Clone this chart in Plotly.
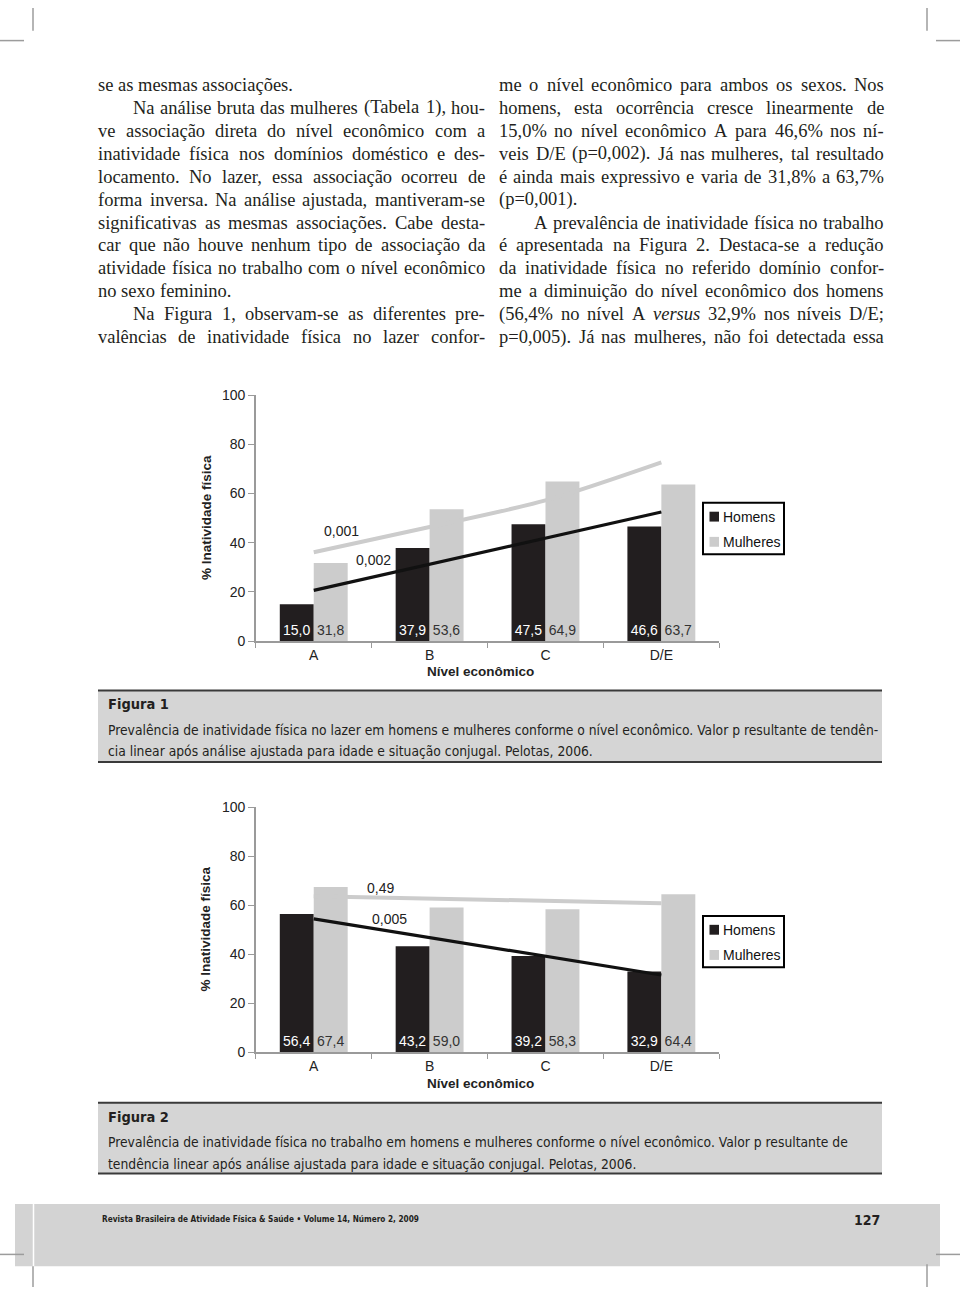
import unicodedata
import plotly.graph_objects as go

W, H = 960, 1295

# ---------------- data ----------------
levels = ["A", "B", "C", "D/E"]
series_names = ["Homens", "Mulheres"]

fig1_men = [15.0, 37.9, 47.5, 46.6]
fig1_women = [31.8, 53.6, 64.9, 63.7]
fig1_trend_men = [20.6, 31.2, 41.8, 52.5]
fig1_trend_women = [36.1, 46.4, 57.2, 72.7]
fig1_pvalues = ["0,001", "0,002"]

fig2_men = [56.4, 43.2, 39.2, 32.9]
fig2_women = [67.4, 59.0, 58.3, 64.4]
fig2_trend_men = [54.4, 46.8, 39.1, 31.5]
fig2_trend_women = [63.6, 62.7, 61.7, 60.8]
fig2_pvalues = ["0,49", "0,005"]

y_ticks = [0, 20, 40, 60, 80, 100]

left_col = [
    "se as mesmas associações.",
    "Na análise bruta das mulheres (Tabela 1), hou-",
    "ve associação direta do nível econômico com a",
    "inatividade física nos domínios doméstico e des-",
    "locamento. No lazer, essa associação ocorreu de",
    "forma inversa. Na análise ajustada, mantiveram-se",
    "significativas as mesmas associações. Cabe desta-",
    "car que não houve nenhum tipo de associação da",
    "atividade física no trabalho com o nível econômico",
    "no sexo feminino.",
    "Na Figura 1, observam-se as diferentes pre-",
    "valências de inatividade física no lazer confor-",
]
left_indent = [1, 10]
left_ragged = [0, 9]
right_col = [
    "me o nível econômico para ambos os sexos. Nos",
    "homens, esta ocorrência cresce linearmente de",
    "15,0% no nível econômico A para 46,6% nos ní-",
    "veis D/E (p=0,002). Já nas mulheres, tal resultado",
    "é ainda mais expressivo e varia de 31,8% a 63,7%",
    "(p=0,001).",
    "A prevalência de inatividade física no trabalho",
    "é apresentada na Figura 2. Destaca-se a redução",
    "da inatividade física no referido domínio confor-",
    "me a diminuição do nível econômico dos homens",
    "(56,4% no nível A <i>versus</i> 32,9% nos níveis D/E;",
    "p=0,005). Já nas mulheres, não foi detectada essa",
]
right_indent = [6]
right_ragged = [5]

cap1_title = "Figura 1"
cap1_lines = [
    "Prevalência de inatividade física no lazer em homens e mulheres conforme o nível econômico. Valor p resultante de tendên-",
    "cia linear após análise ajustada para idade e situação conjugal. Pelotas, 2006.",
]
cap2_title = "Figura 2"
cap2_lines = [
    "Prevalência de inatividade física no trabalho em homens e mulheres conforme o nível econômico. Valor p resultante de",
    "tendência linear após análise ajustada para idade e situação conjugal. Pelotas, 2006.",
]
footer_text = "Revista Brasileira de Atividade Física &amp; Saúde • Volume 14, Número 2, 2009"
page_number = "127"

# ---------------- styling ----------------
C_MEN = "#221e1f"
C_WOMEN = "#cccccc"
C_AXIS = "#9a9a9a"
C_TEXT = "#231f20"
SANS = "Liberation Sans, Arial, sans-serif"
SERIF = "Liberation Serif, Times New Roman, serif"
NARROW = "Liberation Sans Narrow, Arial Narrow, DejaVu Sans Condensed, Roboto Condensed, sans-serif"
BODY_SIZE = 18.5

# Times metrics (1/1000 em) used only to justify the body text lines
TIMES_W = dict(zip("abcdefghijklmnopqrstuvwxyz",
                   [444, 500, 444, 500, 444, 333, 500, 500, 278, 278, 500, 278, 778,
                    500, 500, 500, 500, 333, 389, 278, 500, 500, 722, 500, 500, 444]))
TIMES_W.update(zip("ABCDEFGHIJKLMNOPQRSTUVWXYZ",
                   [722, 667, 667, 722, 611, 556, 722, 722, 333, 389, 722, 611, 889,
                    722, 722, 556, 722, 667, 556, 611, 722, 722, 944, 722, 722, 611]))
TIMES_W.update({d: 500 for d in "0123456789"})
TIMES_W.update({" ": 250, ",": 250, ".": 250, "-": 333, "(": 333, ")": 333,
                "%": 833, "=": 564, "/": 278, ";": 278, ":": 278})


def word_width(w, size):
    s = w.replace("<i>", "").replace("</i>", "")
    tot = 0
    for ch in s:
        base = unicodedata.normalize("NFD", ch)[0]
        tot += TIMES_W.get(base, 500)
    return tot / 1000 * size


def px(x):
    return x / W


def py(y):
    return 1 - y / H


def fmt(v):
    return f"{v:.1f}".replace(".", ",")


fig = go.Figure()

charts = [
    dict(men=fig1_men, women=fig1_women, tm=fig1_trend_men, tw=fig1_trend_women,
         xa="x", ya="y", y0=641, y100=392, pv=fig1_pvalues,
         pvpos=[(341.6, 530), (373, 559.3)], leg_top=501, xtitle_y=672,
         tw_shape="spline"),
    dict(men=fig2_men, women=fig2_women, tm=fig2_trend_men, tw=fig2_trend_women,
         xa="x2", ya="y2", y0=1057.3, y100=809, pv=fig2_pvalues,
         pvpos=[(380.6, 890.7), (389, 922.7)], leg_top=919.3, xtitle_y=1089.3,
         tw_shape="linear"),
]

annotations = []
shapes = []

for i, c in enumerate(charts):
    fig.add_trace(go.Bar(
        x=levels, y=c["men"], name=series_names[0], xaxis=c["xa"], yaxis=c["ya"],
        marker=dict(color=C_MEN, line=dict(width=0)),
        text=[fmt(v) for v in c["men"]], textposition="inside",
        insidetextanchor="start", textangle=0, constraintext="none",
        textfont=dict(color="white", size=14, family=SANS),
        showlegend=False, hoverinfo="skip"))
    fig.add_trace(go.Bar(
        x=levels, y=c["women"], name=series_names[1], xaxis=c["xa"], yaxis=c["ya"],
        marker=dict(color=C_WOMEN, line=dict(width=0)),
        text=[fmt(v) for v in c["women"]], textposition="inside",
        insidetextanchor="start", textangle=0, constraintext="none",
        textfont=dict(color="#333333", size=14, family=SANS),
        showlegend=False, hoverinfo="skip"))
    fig.add_trace(go.Scatter(
        x=levels, y=c["tw"], mode="lines", xaxis=c["xa"], yaxis=c["ya"],
        line=dict(color=C_WOMEN, width=4, shape=c["tw_shape"], smoothing=0.8),
        showlegend=False, hoverinfo="skip"))
    fig.add_trace(go.Scatter(
        x=levels, y=c["tm"], mode="lines", xaxis=c["xa"], yaxis=c["ya"],
        line=dict(color="#111111", width=3.2),
        showlegend=False, hoverinfo="skip"))

    for txt, (ax_, ay_) in zip(c["pv"], c["pvpos"]):
        annotations.append(dict(x=px(ax_), y=py(ay_), xref="paper", yref="paper",
                                text=txt, showarrow=False, xanchor="center", yanchor="middle",
                                font=dict(family=SANS, size=14, color="#222222")))
    lt = c["leg_top"]
    shapes.append(dict(type="rect", xref="paper", yref="paper",
                       x0=px(703), x1=px(784), y0=py(lt), y1=py(lt + 52),
                       line=dict(color="black", width=2), fillcolor="white"))
    for k, (nm, col) in enumerate(zip(series_names, [C_MEN, C_WOMEN])):
        cy = lt + 14 + 25.5 * k
        shapes.append(dict(type="rect", xref="paper", yref="paper",
                           x0=px(709.5), x1=px(719), y0=py(cy - 5), y1=py(cy + 5),
                           line=dict(width=0), fillcolor=col))
        annotations.append(dict(x=px(721), y=py(cy), xref="paper", yref="paper",
                                text=nm, showarrow=False, xanchor="left", yanchor="middle",
                                font=dict(family=SANS, size=14, color="#111111")))
    annotations.append(dict(x=px(206), y=py((c["y0"] + c["y100"]) / 2), xref="paper", yref="paper",
                            text="<b>% Inatividade física</b>", showarrow=False, textangle=-90,
                            xanchor="center", yanchor="middle",
                            font=dict(family=SANS, size=13.5, color="#222222")))
    annotations.append(dict(x=px(480), y=py(c["xtitle_y"]), xref="paper", yref="paper",
                            text="<b>Nível econômico</b>", showarrow=False,
                            xanchor="center", yanchor="middle",
                            font=dict(family=SANS, size=13.5, color="#222222")))

ax_common = dict(type="category", showline=True, linecolor=C_AXIS, linewidth=1.5,
                 ticks="outside", tickson="boundaries", ticklen=5, tickcolor=C_AXIS,
                 showgrid=False, zeroline=False, fixedrange=True,
                 tickfont=dict(family=SANS, size=14, color="#222222"),
                 domain=[px(255.8), px(719.3)])
ay_common = dict(range=[0, 100], tickvals=y_ticks, showline=True, linecolor=C_AXIS,
                 linewidth=1.5, ticks="outside", ticklen=6, tickcolor=C_AXIS,
                 showgrid=False, zeroline=False, fixedrange=True,
                 tickfont=dict(family=SANS, size=14, color="#222222"))

fig.update_layout(
    xaxis=dict(**ax_common, anchor="y"),
    yaxis=dict(**ay_common, anchor="x", domain=[py(641), py(392)]),
    xaxis2=dict(**ax_common, anchor="y2"),
    yaxis2=dict(**ay_common, anchor="x2", domain=[py(1057.3), py(809)]),
)

# ---------------- page text (justified, word by word) ----------------
LINE_Y0, LINE_DY = 78, 23.2


def add_column(lines, x_left, x_right, indents, ragged):
    for k, line in enumerate(lines):
        x0 = x_left + (35 if k in indents else 0)
        words = line.split(" ")
        widths = [word_width(w, BODY_SIZE) for w in words]
        if k in ragged or len(words) < 2:
            gap = word_width(" ", BODY_SIZE)
        else:
            gap = (x_right - x0 - sum(widths)) / (len(words) - 1)
        x = x0
        yy = py(LINE_Y0 + LINE_DY * k)
        for w, wd in zip(words, widths):
            annotations.append(dict(x=px(x), y=yy, xref="paper", yref="paper",
                                    text=w, showarrow=False, xanchor="left", yanchor="middle",
                                    borderpad=0, font=dict(family=SERIF, size=BODY_SIZE, color=C_TEXT)))
            x += wd + gap


add_column(left_col, 97, 484, left_indent, left_ragged)
add_column(right_col, 498, 883, right_indent, right_ragged)

# caption boxes
for title, lines, top, bottom, ys in [
    (cap1_title, cap1_lines, 691, 763.5, [705, 731, 752.5]),
    (cap2_title, cap2_lines, 1108.5, 1180, [1123.3, 1148.3, 1170]),
]:
    shapes.append(dict(type="rect", xref="paper", yref="paper", x0=px(98), x1=px(882),
                       y0=py(bottom), y1=py(top), line=dict(width=0), fillcolor="#d5d5d5",
                       layer="below"))
    for yy in (top, bottom):
        shapes.append(dict(type="line", xref="paper", yref="paper", x0=px(98), x1=px(882),
                           y0=py(yy), y1=py(yy), line=dict(color="#3a3a3a", width=2)))
    annotations.append(dict(x=px(106), y=py(ys[0]), xref="paper", yref="paper",
                            text=f"<b>{title}</b>", showarrow=False, xanchor="left", yanchor="middle",
                            font=dict(family=NARROW, size=14.5, color=C_TEXT)))
    for ln, yy in zip(lines, ys[1:]):
        annotations.append(dict(x=px(106), y=py(yy), xref="paper", yref="paper",
                                text=ln, showarrow=False, xanchor="left", yanchor="middle",
                                font=dict(family=NARROW, size=13.75, color=C_TEXT)))

# footer band
shapes.append(dict(type="rect", xref="paper", yref="paper", x0=px(15), x1=px(940),
                   y0=py(1274), y1=py(1211), line=dict(width=0), fillcolor="#d3d3d3", layer="below"))
shapes.append(dict(type="line", xref="paper", yref="paper", x0=px(33.5), x1=px(33.5),
                   y0=py(1274), y1=py(1211), line=dict(color="white", width=1.5)))
annotations.append(dict(x=px(100), y=py(1226), xref="paper", yref="paper",
                        text=f"<b>{footer_text}</b>", showarrow=False, xanchor="left", yanchor="middle",
                        font=dict(family=NARROW, size=8.2, color=C_TEXT)))
annotations.append(dict(x=px(882), y=py(1227), xref="paper", yref="paper",
                        text=f"<b>{page_number}</b>", showarrow=False, xanchor="right", yanchor="middle",
                        font=dict(family=NARROW, size=14, color=C_TEXT)))

# crop marks
CM = dict(color="#9c9c9c", width=1.5)
for (x0, y0, x1, y1) in [
    (33, 0, 33, 23), (0, 33, 24, 33), (927, 0, 927, 23), (936, 33, 960, 33),
    (0, 1262, 24, 1262), (33, 1274, 33, 1295), (936, 1262, 960, 1262), (927, 1272, 927, 1295),
]:
    shapes.append(dict(type="line", xref="paper", yref="paper", x0=px(x0), x1=px(x1),
                       y0=py(y0), y1=py(y1), line=CM))

fig.update_layout(
    width=W, height=H, margin=dict(l=0, r=0, t=0, b=0),
    paper_bgcolor="white", plot_bgcolor="white",
    barmode="group", bargap=0.414, bargroupgap=0,
    showlegend=False, annotations=annotations, shapes=shapes,
)

fig.write_html("out.html")
